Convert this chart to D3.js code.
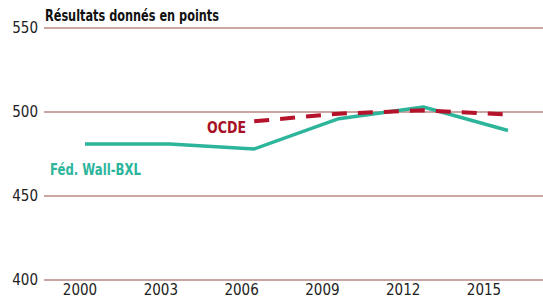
<!DOCTYPE html>
<html>
<head>
<meta charset="utf-8">
<script src="https://cdn.jsdelivr.net/npm/d3@7"></script>
<style>
  body { margin: 0; background: #fff; }
  svg { display: block; font-family: 'Liberation Sans Narrow', 'DejaVu Sans Condensed', sans-serif; }
</style>
</head>
<body>
<div id="chart"></div>
<script>
const years = [2000, 2003, 2006, 2009, 2012, 2015];
const fwbScores = [481, 481, 478, 496, 503, 489];
const ocdeYears = [2006, 2009, 2012, 2015];
const ocdeScores = [494.5, 499, 501, 498.5];
const yTicks = [400, 450, 500, 550];

const width = 543;
const height = 299;

const svg = d3.select('#chart')
    .append('svg')
    .attr('width', width)
    .attr('height', height);

const y = d3.scaleLinear()
    .domain([400, 550])
    .range([280, 28]);

// line points sit a bit right of the year labels in the original
const x = d3.scalePoint()
    .domain(years)
    .range([85, 508]);

const xLabel = d3.scalePoint()
    .domain(years)
    .range([80, 484]);

// grid lines
svg.append('g')
    .selectAll('line')
    .data(yTicks)
    .enter()
    .append('line')
    .attr('x1', 44)
    .attr('x2', width)
    .attr('y1', d => y(d))
    .attr('y2', d => y(d))
    .attr('stroke', '#9a4b45')
    .attr('stroke-width', 1);

svg.append('g')
    .selectAll('text')
    .data(yTicks)
    .enter()
    .append('text')
    .attr('x', 38)
    .attr('y', d => y(d) + 5)
    .attr('text-anchor', 'end')
    .style('font-size', '15px')
    .style('fill', '#222')
    .text(d => d);

svg.append('g')
    .selectAll('text')
    .data(years)
    .enter()
    .append('text')
    .attr('x', d => xLabel(d))
    .attr('y', 295)
    .attr('text-anchor', 'middle')
    .style('font-size', '15px')
    .style('fill', '#222')
    .text(d => d);

// title
svg.append('text')
    .attr('x', 45)
    .attr('y', 21)
    .attr('textLength', 174)
    .attr('lengthAdjust', 'spacingAndGlyphs')
    .style('font-size', '15px')
    .style('font-weight', 'bold')
    .style('fill', '#111')
    .text('Résultats donnés en points');

const line = d3.line()
    .x(d => x(d[0]))
    .y(d => y(d[1]));

svg.append('path')
    .datum(years.map((yr, i) => [yr, fwbScores[i]]))
    .attr('d', line)
    .attr('fill', 'none')
    .attr('stroke', '#2db59b')
    .attr('stroke-width', 3.5)
    .attr('stroke-linejoin', 'round');

svg.append('path')
    .datum(ocdeYears.map((yr, i) => [yr, ocdeScores[i]]))
    .attr('d', line)
    .attr('fill', 'none')
    .attr('stroke', '#b5122b')
    .attr('stroke-width', 4)
    .style('stroke-dasharray', '15,11');

// series labels
svg.append('text')
    .attr('x', 207)
    .attr('y', 133)
    .attr('textLength', 39)
    .attr('lengthAdjust', 'spacingAndGlyphs')
    .style('font-size', '15px')
    .style('font-weight', 'bold')
    .style('fill', '#a81026')
    .text('OCDE');

svg.append('text')
    .attr('x', 50)
    .attr('y', 175)
    .attr('textLength', 91)
    .attr('lengthAdjust', 'spacingAndGlyphs')
    .style('font-size', '15px')
    .style('font-weight', 'bold')
    .style('fill', '#2db59b')
    .text('Féd. Wall-BXL');
</script>
</body>
</html>
